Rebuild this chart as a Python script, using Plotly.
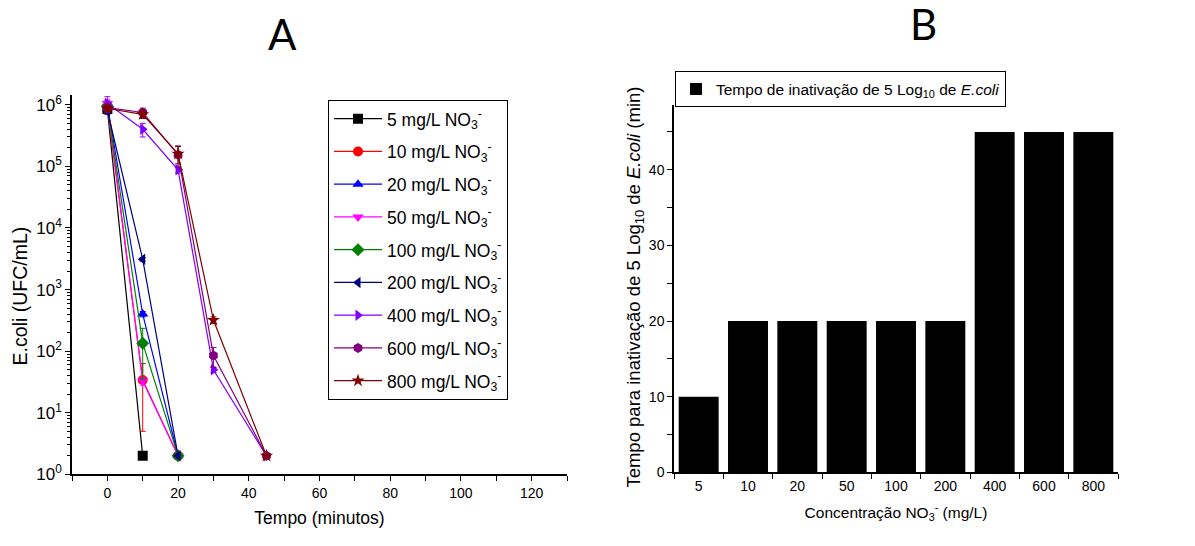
import plotly.graph_objects as go

# ---- Panel A: E. coli survival curves ----
series_names = ["5", "10", "20", "50", "100", "200", "400", "600", "800"]

t_5 = [0, 10]
y_5 = [8.5e5, 2]
e_5 = [1.0e5, 0]

t_10 = [0, 10, 20]
y_10 = [9.0e5, 34, 2]
e_10 = [1.2e5, 29, 0]

t_20 = [0, 10, 20]
y_20 = [1.0e6, 400, 2]
e_20 = [1.5e5, 40, 0]

t_50 = [0, 10, 20]
y_50 = [1.05e6, 33, 2]
e_50 = [1.5e5, 5, 0]

t_100 = [0, 10, 20]
y_100 = [9.5e5, 135, 2]
e_100 = [1.0e5, 100, 0]

t_200 = [0, 10, 20]
y_200 = [8.0e5, 3100, 2]
e_200 = [1.0e5, 200, 0]

t_400 = [0, 10, 20, 30, 45]
y_400 = [1.05e6, 4.0e5, 8.8e4, 50, 2]
e_400 = [3.0e5, 1.0e5, 1.0e4, 5, 0]

t_600 = [0, 10, 20, 30, 45]
y_600 = [9.0e5, 7.5e5, 1.55e5, 85, 2]
e_600 = [1.0e5, 1.3e5, 6.0e4, 30, 0]

t_800 = [0, 10, 20, 30, 45]
y_800 = [8.7e5, 7.0e5, 1.6e5, 320, 2]
e_800 = [1.0e5, 1.0e5, 5.0e4, 40, 0]

times = [t_5, t_10, t_20, t_50, t_100, t_200, t_400, t_600, t_800]
counts = [y_5, y_10, y_20, y_50, y_100, y_200, y_400, y_600, y_800]
errors = [e_5, e_10, e_20, e_50, e_100, e_200, e_400, e_600, e_800]

colors = ["#000000", "#ff0000", "#0000ff", "#ff00ff", "#008000",
          "#000080", "#8000ff", "#800080", "#800000"]
symbols = ["square", "circle", "triangle-up", "triangle-down", "diamond",
           "triangle-left", "triangle-right", "hexagon", "star"]

# ---- Panel B: time for 5-log inactivation ----
conc_labels = ["5", "10", "20", "50", "100", "200", "400", "600", "800"]
inact_time = [10, 20, 20, 20, 20, 20, 45, 45, 45]

FONT = "Liberation Sans, Arial, sans-serif"
W, H = 1195, 546

fig = go.Figure()

for name, t, y, e, c, s in zip(series_names, times, counts, errors, colors, symbols):
    fig.add_trace(go.Scatter(
        x=t, y=y, mode="lines+markers",
        name=f"{name} mg/L NO<sub>3</sub><sup>-</sup>",
        legendgroup=name,
        line=dict(color=c, width=1.2),
        marker=dict(symbol=s, color=c, size=10, line=dict(width=0)),
        error_y=dict(type="data", array=e, color=c, thickness=1, width=3),
        xaxis="x", yaxis="y", legend="legend",
    ))

fig.add_trace(go.Bar(
    x=conc_labels, y=inact_time, width=0.81,
    marker=dict(color="#000000", line=dict(width=0)),
    name="Tempo de inativação de 5 Log<sub>10</sub> de <i>E.coli</i>",
    xaxis="x2", yaxis="y2", legend="legend2", showlegend=True,
))

# minor tick positions for the logarithmic axis
log_minor = [k * 10 ** d for d in range(0, 6) for k in range(2, 10)]

axis_common = dict(showline=True, linecolor="black", linewidth=1.5,
                   showgrid=False, zeroline=False, ticks="outside",
                   tickcolor="black", ticklen=5, tickwidth=1.2)

fig.update_layout(
    width=W, height=H,
    margin=dict(l=0, r=0, t=0, b=0),
    paper_bgcolor="white", plot_bgcolor="white",
    font=dict(family=FONT, size=14, color="black"),
    xaxis=dict(domain=[72 / W, 567 / W], range=[-10, 130],
               tickvals=[0, 20, 40, 60, 80, 100, 120],
               tickfont=dict(family=FONT, size=14, color="black"),
               minor=dict(dtick=10, ticks="outside", ticklen=5, tickcolor="black"),
               title=dict(text="Tempo (minutos)", font=dict(family=FONT, size=17.5),
                          standoff=12),
               anchor="y", **axis_common),
    yaxis=dict(domain=[1 - 483 / H, 1 - 95 / H], type="log", range=[0, 6.16],
               tickvals=[1, 10, 100, 1e3, 1e4, 1e5, 1e6],
               ticktext=[f"10<sup>{i}</sup>" for i in range(7)],
               tickfont=dict(family=FONT, size=17, color="black"),
               minor=dict(tickvals=log_minor, ticks="outside", ticklen=3, tickcolor="black"),
               anchor="x", **axis_common),
    xaxis2=dict(domain=[674 / W, 1118 / W], range=[-0.5, 8.5], type="category",
                tickson="boundaries",
                tickfont=dict(family=FONT, size=14, color="black"),
                title=dict(text="Concentração NO<sub>3</sub><sup>-</sup> (mg/L)",
                           font=dict(family=FONT, size=15.5), standoff=14),
                anchor="y2", **axis_common),
    yaxis2=dict(domain=[1 - 481 / H, 1 - 105 / H], range=[0, 48.6],
                tickvals=[0, 10, 20, 30, 40],
                tickfont=dict(family=FONT, size=14, color="black"),
                minor=dict(dtick=5, ticks="outside", ticklen=5, tickcolor="black"),
                anchor="x2", **axis_common),
    legend=dict(x=328 / W, y=1 - 100 / H, xanchor="left", yanchor="top",
                bordercolor="black", borderwidth=1, bgcolor="white",
                font=dict(family=FONT, size=17.5), tracegroupgap=7, itemwidth=48),
    legend2=dict(x=675 / W, y=1 - 71 / H, xanchor="left", yanchor="top",
                 bordercolor="black", borderwidth=1, bgcolor="white",
                 font=dict(family=FONT, size=15.5)),
    annotations=[
        dict(text="E.coli (UFC/mL)", x=20 / W, y=1 - 301 / H, xref="paper", yref="paper",
             textangle=-90, xanchor="center", yanchor="middle", showarrow=False,
             font=dict(family=FONT, size=19.5)),
        dict(text="Tempo para inativação de 5 Log<sub>10</sub> de <i>E.coli</i> (min)",
             x=635 / W, y=1 - 292 / H, xref="paper", yref="paper",
             textangle=-90, xanchor="center", yanchor="middle", showarrow=False,
             font=dict(family=FONT, size=18.5)),
        dict(text="A", x=282 / W, y=1 - 33 / H, xref="paper", yref="paper",
             xanchor="center", yanchor="middle", showarrow=False,
             font=dict(family="Lato, Open Sans, sans-serif", size=42)),
        dict(text="B", x=923 / W, y=1 - 22 / H, xref="paper", yref="paper",
             xanchor="center", yanchor="middle", showarrow=False,
             font=dict(family="Lato, Open Sans, sans-serif", size=42)),
    ],
)

fig.write_html("out.html")
